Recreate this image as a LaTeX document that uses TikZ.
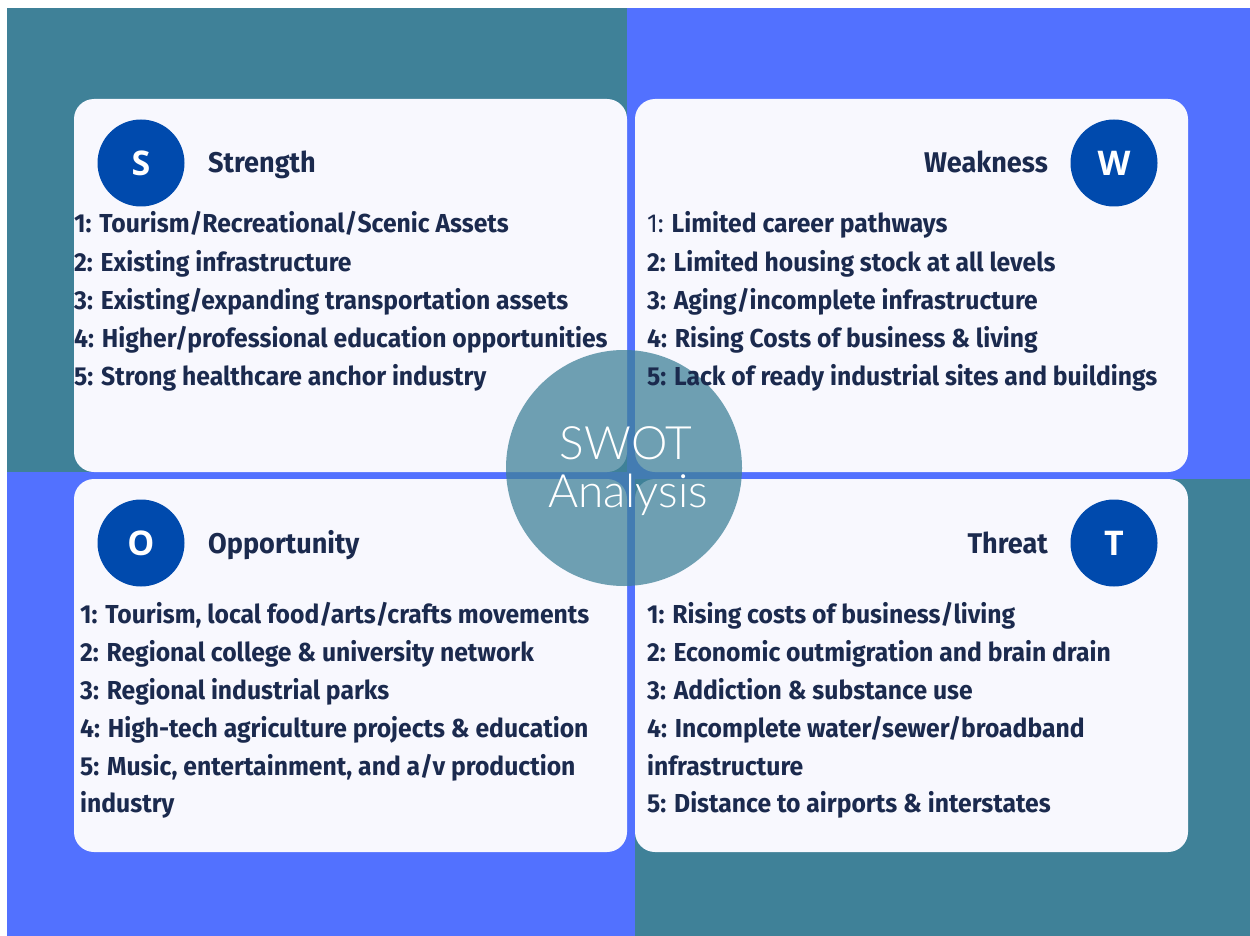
\documentclass[tikz,border=0pt]{standalone}
\usepackage{fontspec}
\setmainfont{Fira Sans}
\newfontfamily\itemfont[FakeStretch=0.95]{Fira Sans}
\newfontfamily\letterfont{Open Sans}
\IfFontExistsTF{Lato Light}{\newfontfamily\swotfont{Lato Light}}{\newfontfamily\swotfont{Lato}}
\definecolor{tealbg}{RGB}{63,129,152}
\definecolor{bluebg}{RGB}{82,113,255}
\definecolor{cardc}{RGB}{248,248,254}
\definecolor{dblue}{RGB}{0,74,173}
\definecolor{navy}{RGB}{27,42,78}
\tikzset{
  card/.style={fill=cardc, rounded corners=20pt},
  badge/.style={circle, fill=dblue, minimum size=87pt, inner sep=0pt, text=white,
    font=\letterfont\bfseries\fontsize{34}{34}\selectfont},
  ttl/.style={text=navy, inner sep=0pt, font=\itemfont\bfseries\fontsize{28.5}{28.5}\selectfont},
  itm/.style={text=navy, inner sep=0pt, anchor=base west, font=\itemfont\bfseries\fontsize{26}{26}\selectfont},
  swot/.style={text=white, inner sep=0pt, anchor=base, font=\swotfont\fontsize{46}{46}\selectfont}
}
\begin{document}
\begin{tikzpicture}[x=1pt,y=-1pt]
\useasboundingbox (0,0) rectangle (1250,936);
\fill[white] (0,0) rectangle (1250,936);
\fill[bluebg] (7,8) rectangle (1250,936);
\fill[tealbg] (7,8) rectangle (627,472);
\fill[tealbg] (635,479) rectangle (1250,936);
% cards
\path[card] (74,99) rectangle (627,472);
\path[card] (635,99) rectangle (1188,472);
\path[card] (74,479) rectangle (627,852);
\path[card] (635,479) rectangle (1188,852);
% center circle
\node[circle, fill=tealbg, fill opacity=0.74, minimum size=236pt, inner sep=0pt] (c) at (624,468) {};
% badges
\node[badge] (bs) at (141,163) {S};
\node[badge] (bw) at (1114,163) {W};
\node[badge] (bo) at (141,543) {O};
\node[badge] (bt) at (1114,543) {T};
% titles
\node[ttl, anchor=base west] (ts) at (208,173) {Strength};
\node[ttl, anchor=base east] (tw) at (1048,173) {Weakness};
\node[ttl, anchor=base west] (to) at (208,553) {Opportunity};
\node[ttl, anchor=base east] (tt) at (1048,553) {Threat};
% strength items
\node[itm] (s1) at (74,233) {1: Tourism/Recreational/Scenic Assets};
\node[itm] (s2) at (74,271) {2: Existing infrastructure};
\node[itm] (s3) at (74,309) {3: Existing/expanding transportation assets};
\node[itm] (s4) at (74,347) {4: Higher/professional education opportunities};
\node[itm] (s5) at (74,385) {5: Strong healthcare anchor industry};
% weakness items
\node[itm] (w1) at (647,233) {{\mdseries 1:} Limited career pathways};
\node[itm] (w2) at (647,271) {2: Limited housing stock at all levels};
\node[itm] (w3) at (647,309) {3: Aging/incomplete infrastructure};
\node[itm] (w4) at (647,347) {4: Rising Costs of business \& living};
\node[itm] (w5) at (647,385) {5: Lack of ready industrial sites and buildings};
% opportunity items
\node[itm] (o1) at (80,623) {1: Tourism, local food/arts/crafts movements};
\node[itm] (o2) at (80,661) {2: Regional college \& university network};
\node[itm] (o3) at (80,699) {3: Regional industrial parks};
\node[itm] (o4) at (80,737) {4: High-tech agriculture projects \& education};
\node[itm] (o5) at (80,775) {5: Music, entertainment, and a/v production};
\node[itm] (o6) at (80,812) {industry};
% threat items
\node[itm] (t1) at (647,623) {1: Rising costs of business/living};
\node[itm] (t2) at (647,661) {2: Economic outmigration and brain drain};
\node[itm] (t3) at (647,699) {3: Addiction \& substance use};
\node[itm] (t4) at (647,737) {4: Incomplete water/sewer/broadband};
\node[itm] (t5) at (647,775) {infrastructure};
\node[itm] (t6) at (647,812) {5: Distance to airports \& interstates};
% center title
\node[swot] (sw) at (626,459) {SWOT};
\node[swot] (an) at (628,507) {Analysis};
\end{tikzpicture}
\end{document}
